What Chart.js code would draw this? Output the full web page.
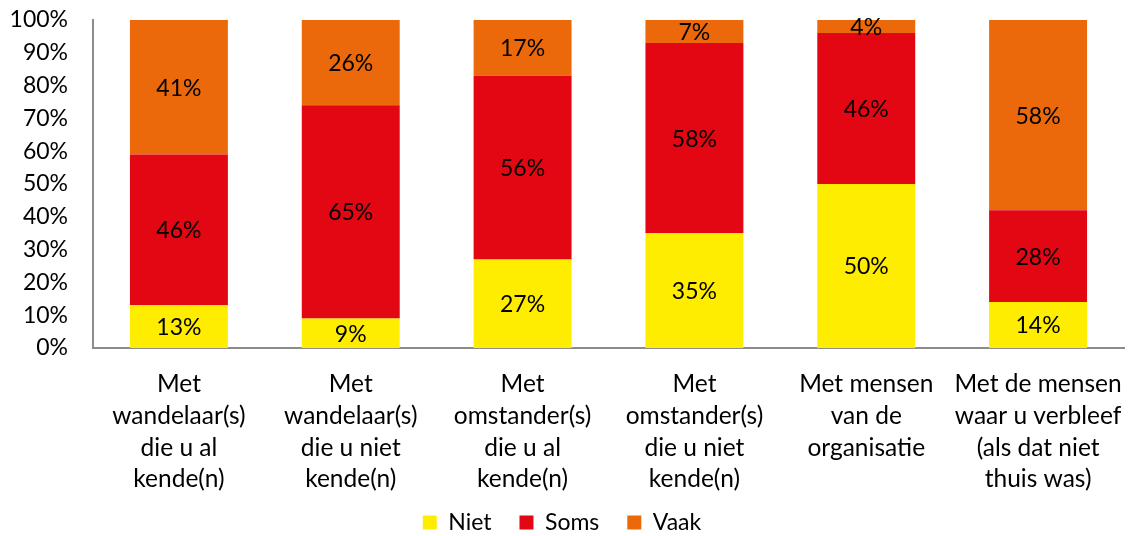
<!DOCTYPE html>
<html>
<head>
<meta charset="utf-8">
<script src="https://cdn.jsdelivr.net/npm/chart.js@4/dist/chart.umd.min.js"></script>
<style>
  html, body { margin: 0; padding: 0; background: #fff; }
  #wrap { width: 1129px; height: 536px; }
</style>
</head>
<body>
<div id="wrap"><canvas id="chart" width="1129" height="536"></canvas></div>
<script>
const categories = [
  ['Met', 'wandelaar(s)', 'die u al', 'kende(n)'],
  ['Met', 'wandelaar(s)', 'die u niet', 'kende(n)'],
  ['Met', 'omstander(s)', 'die u al', 'kende(n)'],
  ['Met', 'omstander(s)', 'die u niet', 'kende(n)'],
  ['Met mensen', 'van de', 'organisatie'],
  ['Met de mensen', 'waar u verbleef', '(als dat niet', 'thuis was)']
];
const niet = [13, 9, 27, 35, 50, 14];
const soms = [46, 65, 56, 58, 46, 28];
const vaak = [41, 26, 17, 7, 4, 58];
const yTicks = [0, 10, 20, 30, 40, 50, 60, 70, 80, 90, 100];

const FONT = 'Lato, "Open Sans", sans-serif';

// percentage in the middle of every segment
const barLabels = {
  id: 'barLabels',
  afterDatasetsDraw(chart) {
    const ctx = chart.ctx;
    ctx.save();
    ctx.font = '23px ' + FONT;
    ctx.fillStyle = '#000';
    ctx.textAlign = 'center';
    ctx.textBaseline = 'middle';
    chart.data.datasets.forEach((ds, i) => {
      const meta = chart.getDatasetMeta(i);
      meta.data.forEach((bar, j) => {
        const y = (bar.y + bar.base) / 2;
        ctx.fillText(ds.data[j] + '%', bar.x, y + 1);
      });
    });
    ctx.restore();
  }
};

new Chart(document.getElementById('chart'), {
  type: 'bar',
  data: {
    labels: categories,
    datasets: [
      { label: 'Niet', data: niet, backgroundColor: '#FFED00' },
      { label: 'Soms', data: soms, backgroundColor: '#E30613' },
      { label: 'Vaak', data: vaak, backgroundColor: '#EB690B' }
    ]
  },
  options: {
    responsive: false,
    animation: false,
    layout: { padding: { top: 20, right: 5, left: 0, bottom: -8 } },
    datasets: { bar: { categoryPercentage: 1, barPercentage: 0.57 } },
    plugins: {
      legend: {
        position: 'bottom',
        labels: {
          boxWidth: 14, boxHeight: 14, padding: 28,
          color: '#000',
          font: { family: FONT, size: 23 }
        }
      },
      tooltip: { enabled: false }
    },
    scales: {
      x: {
        stacked: true,
        grid: { display: false, drawTicks: false },
        border: { color: '#8c8c8c', width: 2 },
        ticks: {
          color: '#000', maxRotation: 0, autoSkip: false, padding: 20,
          font: { family: FONT, size: 24.5, lineHeight: 1.3 }
        },
        afterFit(scale) {
          scale.height = 135;
          scale.paddingLeft = 0;
          scale.paddingRight = 0;
          // let the last label line run past the scale box
          scale._computeLabelArea = () => undefined;
        }
      },
      y: {
        stacked: true,
        min: 0, max: 100,
        afterBuildTicks(scale) { scale.ticks = yTicks.map(v => ({ value: v })); },
        grid: { display: false, drawTicks: false },
        border: { color: '#8c8c8c', width: 2 },
        ticks: {
          color: '#000', padding: 25,
          font: { family: FONT, size: 23 },
          callback: v => v + '%'
        },
        afterFit(scale) {
          scale.width = 93;
          scale.paddingTop = 0;
          scale.paddingBottom = 0;
        }
      }
    }
  },
  plugins: [barLabels]
});
</script>
</body>
</html>
